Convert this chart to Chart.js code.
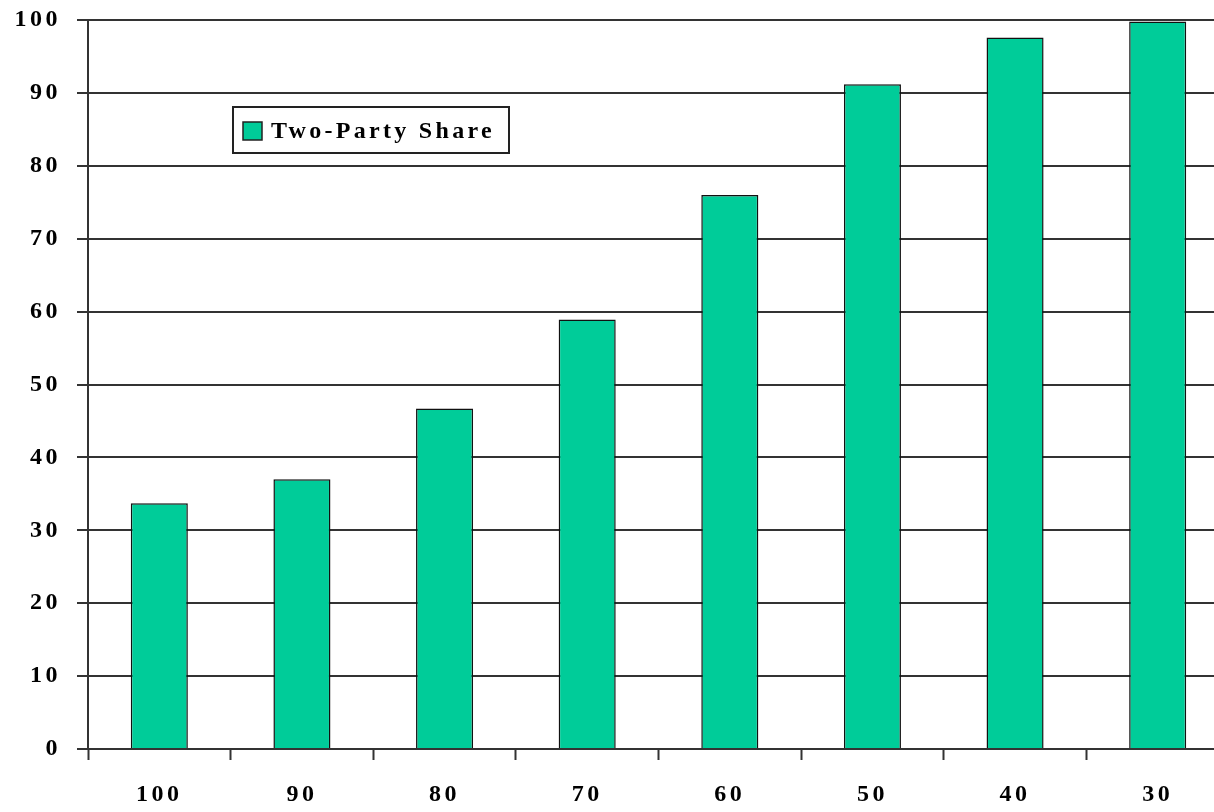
<!DOCTYPE html>
<html>
<head>
<meta charset="utf-8">
<script src="https://cdn.jsdelivr.net/npm/chart.js@4"></script>
<style>
  html, body { margin: 0; padding: 0; background: #fff; overflow: hidden; }
  #wrap { position: relative; width: 1232px; height: 812px; }
</style>
</head>
<body>
<div id="wrap"><canvas id="barChart"></canvas></div>
<script>
const categories = ['100', '90', '80', '70', '60', '50', '40', '30'];
const twoPartyShare = [33.7, 37.0, 46.7, 58.9, 76.0, 91.2, 97.6, 99.8];
const seriesLabel = 'Two-Party Share';

const barColor = '#00CC99';
const lineColor = '#333333';
const font = { family: "'Liberation Serif', 'Times New Roman', serif", size: 24, weight: 'bold' };

// spaced-out lettering like the original
const spacing = {
  id: 'spacing',
  beforeDraw(chart) { chart.ctx.letterSpacing = '3.5px'; }
};

// legend box sits inside the plot, drawn by hand
const boxLegend = {
  id: 'boxLegend',
  afterDraw(chart) {
    const ctx = chart.ctx;
    const ds = chart.data.datasets[0];
    ctx.save();
    ctx.letterSpacing = '3.3px';
    ctx.fillStyle = '#fff';
    ctx.fillRect(233, 107, 276, 46);
    ctx.strokeStyle = '#222';
    ctx.lineWidth = 2;
    ctx.strokeRect(233, 107, 276, 46);
    ctx.fillStyle = ds.backgroundColor;
    ctx.fillRect(243, 122, 19, 18);
    ctx.lineWidth = 1.5;
    ctx.strokeRect(243, 122, 19, 18);
    ctx.fillStyle = '#000';
    ctx.font = 'bold 24px ' + font.family;
    ctx.textBaseline = 'middle';
    ctx.fillText(ds.label, 271, 132);
    ctx.restore();
  }
};

new Chart(document.getElementById('barChart'), {
  type: 'bar',
  data: {
    labels: categories,
    datasets: [{
      label: seriesLabel,
      data: twoPartyShare,
      backgroundColor: barColor,
      borderColor: '#111',
      borderWidth: 1.5,
      barPercentage: 0.4,
      categoryPercentage: 1.0
    }]
  },
  options: {
    responsive: true,
    maintainAspectRatio: false,
    animation: false,
    layout: { padding: { top: 20, right: 3, left: 0, bottom: 0 } },
    plugins: {
      legend: { display: false },
      tooltip: { enabled: false }
    },
    scales: {
      x: {
        offset: true,
        grid: {
          offset: true,
          drawOnChartArea: false,
          drawTicks: true,
          tickLength: 11,
          tickWidth: 2,
          tickColor: lineColor
        },
        border: { display: true, color: lineColor, width: 2 },
        ticks: { color: '#000', font: font, padding: 20, maxRotation: 0 },
        afterFit(scale) {
          scale.height = 63;
          scale.paddingLeft = 0;
          scale.paddingRight = 0;
        }
      },
      y: {
        min: 0,
        max: 100,
        grid: {
          color: lineColor,
          lineWidth: 2,
          drawTicks: true,
          tickLength: 11,
          tickColor: lineColor
        },
        border: { display: true, color: lineColor, width: 2 },
        ticks: { stepSize: 10, color: '#000', font: font, padding: 16 },
        afterFit(scale) {
          scale.width = 88;
          scale.paddingTop = 0;
          scale.paddingBottom = 0;
        }
      }
    }
  },
  plugins: [spacing, boxLegend]
});
</script>
</body>
</html>
